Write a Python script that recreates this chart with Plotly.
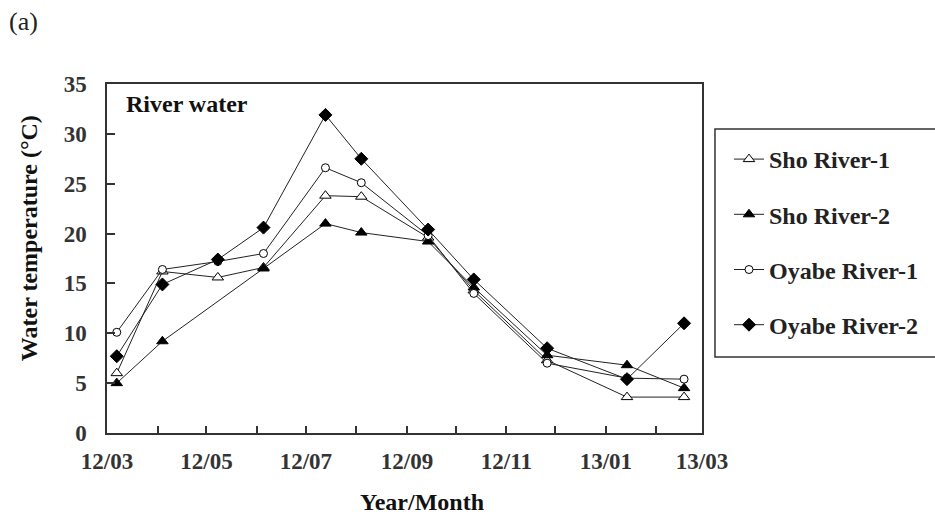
import plotly.graph_objects as go

dates = ["2012-03-07", "2012-04-04", "2012-05-08", "2012-06-05", "2012-07-13",
         "2012-08-04", "2012-09-14", "2012-10-12", "2012-11-26", "2013-01-14",
         "2013-02-18"]
sho1 = [6.0, 16.2, 15.6, 16.6, 23.8, 23.7, 19.6, 14.3, 7.3, 3.6, 3.6]
sho2 = [5.0, 9.2, None, 16.5, 21.0, 20.1, 19.2, 14.6, 7.8, 6.8, 4.5]
oyabe1 = [10.1, 16.4, 17.2, 18.0, 26.6, 25.1, 19.8, 14.0, 7.0, 5.5, 5.4]
oyabe2 = [7.7, 14.9, 17.4, 20.6, 31.9, 27.5, 20.4, 15.4, 8.5, 5.4, 11.0]
names = ["Sho River-1", "Sho River-2", "Oyabe River-1", "Oyabe River-2"]
series = [sho1, sho2, oyabe1, oyabe2]
symbols = ["triangle-up", "triangle-up", "circle", "diamond"]
fills = ["white", "black", "white", "black"]
sizes = [10, 10, 8, 10]

W, H = 935, 517
L, R, T, B = 107, 703, 84, 433
FONT = "Liberation Serif, Times New Roman, serif"

def px(x):
    return (x - L) / (R - L)

def py(y):
    return 1 - (y - T) / (B - T)

fig = go.Figure()
for i in range(4):
    fig.add_trace(go.Scatter(
        x=dates, y=series[i], name=names[i], mode="lines+markers",
        connectgaps=True, legendgroup=names[i],
        line=dict(color="#222", width=1),
        marker=dict(symbol=symbols[i], size=sizes[i], color=fills[i],
                    line=dict(color="black", width=1)),
    ))

fig.update_layout(
    width=W, height=H,
    margin=dict(l=L, r=W - R, t=T, b=H - B),
    paper_bgcolor="white", plot_bgcolor="white",
    font=dict(family=FONT, size=23, color="#222"),
    showlegend=True,
    legend=dict(x=px(729), y=py(137), xanchor="left", yanchor="top",
                bgcolor="rgba(0,0,0,0)", borderwidth=0,
                tracegroupgap=21, traceorder="grouped",
                font=dict(family=FONT, size=24, color="#222", weight="bold"),
                itemwidth=30),
)

fig.update_xaxes(
    type="date", range=["2012-03-01", "2013-03-01"],
    tick0="2012-03-01", dtick="M2", tickformat="%y/%m",
    ticks="inside", ticklen=7, tickcolor="#333", tickwidth=1.5,
    minor=dict(dtick="M1", ticks="inside", ticklen=7, tickcolor="#333", tickwidth=1.5),
    showline=True, linecolor="#333", linewidth=1.5, mirror=True,
    showgrid=False, zeroline=False,
    tickfont=dict(family=FONT, size=23, color="#333", weight="bold"),
    ticklabelstandoff=7,
)
fig.update_yaxes(
    range=[0, 35], dtick=5, tick0=0,
    ticks="inside", ticklen=8, tickcolor="#333", tickwidth=1.5,
    showline=True, linecolor="#333", linewidth=1.5, mirror=True,
    showgrid=False, zeroline=False,
    tickfont=dict(family=FONT, size=23, color="#333", weight="bold"),
    ticklabelstandoff=14,
)

# legend border (extends past right edge like the reference)
fig.add_shape(type="rect", xref="paper", yref="paper",
              x0=px(716), x1=px(945), y0=py(357), y1=py(129),
              line=dict(color="#333", width=1.5), fillcolor="rgba(0,0,0,0)")

ann = [
    dict(text="(a)", x=px(7), y=py(22), xanchor="left", yanchor="middle",
         font=dict(family=FONT, size=26, color="#222")),
    dict(text="<b>River water</b>", x=px(124), y=py(104), xanchor="left", yanchor="middle",
         font=dict(family=FONT, size=24, color="#111")),
    dict(text="<b>Water temperature (°C)</b>", x=px(29), y=py(238), xanchor="center",
         yanchor="middle", textangle=-90, font=dict(family=FONT, size=24, color="#111")),
    dict(text="<b>Year/Month</b>", x=px(423), y=py(502), xanchor="center", yanchor="middle",
         font=dict(family=FONT, size=24, color="#111")),
]
for a in ann:
    fig.add_annotation(xref="paper", yref="paper", showarrow=False, **a)

fig.write_html("out.html")
